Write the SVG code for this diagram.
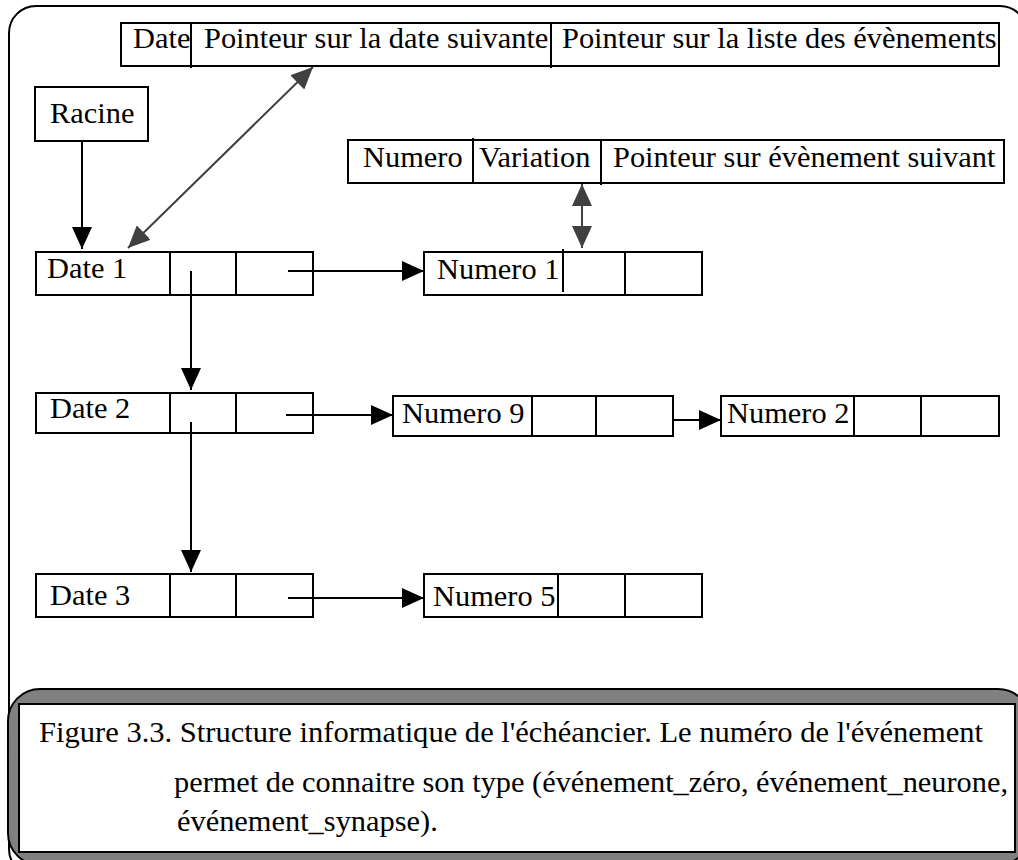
<svg xmlns="http://www.w3.org/2000/svg" width="1018" height="860" viewBox="0 0 1018 860">
<defs>
<style>
.box{fill:#fff;stroke:#000;stroke-width:2}
.div{stroke:#000;stroke-width:2}
.t{font-family:"Liberation Serif","Times New Roman",serif;font-size:30.4px;fill:#000}
.c{stroke:#000;stroke-width:2;fill:none}
.g{stroke:#404040;stroke-width:2;fill:none}
</style>
<marker id="ah" viewBox="0 0 22 20" refX="22" refY="10" markerWidth="22" markerHeight="20" markerUnits="userSpaceOnUse" orient="auto-start-reverse">
<path d="M0,0 L22,10 L0,20 z" fill="#000"/>
</marker>
<marker id="ahg" viewBox="0 0 22 20" refX="22" refY="10" markerWidth="22" markerHeight="20" markerUnits="userSpaceOnUse" orient="auto-start-reverse">
<path d="M0,0 L22,10 L0,20 z" fill="#404040"/>
</marker>
</defs>
<rect x="0" y="0" width="1018" height="860" fill="#fff"/>
<g id="frame">
<rect x="9" y="6" width="1018" height="870" rx="27" ry="27" fill="#fff" stroke="#000" stroke-width="2"/>
</g>
<g id="header-date">
<rect class="box" x="121" y="23" width="878" height="43"/>
<line class="div" x1="191" y1="22" x2="191" y2="68"/>
<line class="div" x1="551" y1="23" x2="551" y2="68"/>
<text class="t" x="133" y="48">Date</text>
<text class="t" x="204" y="48">Pointeur sur la date suivante</text>
<text class="t" x="562" y="48">Pointeur sur la liste des évènements</text>
</g>
<g id="racine">
<rect class="box" x="35" y="87" width="113" height="54"/>
<text class="t" x="50" y="123">Racine</text>
</g>
<g id="header-event">
<rect class="box" x="348" y="140" width="656" height="43"/>
<line class="div" x1="473" y1="138" x2="473" y2="183"/>
<line class="div" x1="601" y1="140" x2="601" y2="185"/>
<text class="t" x="363" y="167">Numero</text>
<text class="t" x="479" y="167">Variation</text>
<text class="t" x="613" y="167">Pointeur sur évènement suivant</text>
</g>
<g id="date1">
<rect class="box" x="36" y="252" width="277" height="43"/>
<line class="div" x1="170" y1="252" x2="170" y2="295"/>
<line class="div" x1="236" y1="252" x2="236" y2="295"/>
<text class="t" x="47" y="278">Date 1</text>
</g>
<g id="numero1">
<rect class="box" x="424" y="252" width="278" height="43"/>
<line class="div" x1="563" y1="249" x2="563" y2="292"/>
<line class="div" x1="625" y1="252" x2="625" y2="295"/>
<text class="t" x="437" y="279">Numero 1</text>
</g>
<g id="date2">
<rect class="box" x="36" y="393" width="277" height="40"/>
<line class="div" x1="170" y1="393" x2="170" y2="433"/>
<line class="div" x1="236" y1="393" x2="236" y2="433"/>
<text class="t" x="50" y="418">Date 2</text>
</g>
<g id="numero9">
<rect class="box" x="393" y="396" width="280" height="40"/>
<line class="div" x1="532" y1="396" x2="532" y2="436"/>
<line class="div" x1="596" y1="396" x2="596" y2="436"/>
<text class="t" x="402" y="423">Numero 9</text>
</g>
<g id="numero2">
<rect class="box" x="721" y="396" width="278" height="40"/>
<line class="div" x1="854" y1="396" x2="854" y2="436"/>
<line class="div" x1="921" y1="396" x2="921" y2="436"/>
<text class="t" x="727" y="423">Numero 2</text>
</g>
<g id="date3">
<rect class="box" x="36" y="574" width="277" height="43"/>
<line class="div" x1="170" y1="574" x2="170" y2="617"/>
<line class="div" x1="236" y1="574" x2="236" y2="617"/>
<text class="t" x="50" y="605">Date 3</text>
</g>
<g id="numero5">
<rect class="box" x="424" y="574" width="278" height="43"/>
<line class="div" x1="558" y1="574" x2="558" y2="617"/>
<line class="div" x1="625" y1="574" x2="625" y2="617"/>
<text class="t" x="433" y="606">Numero 5</text>
</g>
<g id="connectors">
<line class="c" x1="82" y1="141" x2="82" y2="249" marker-end="url(#ah)"/>
<line class="g" x1="128" y1="248" x2="313" y2="67" marker-start="url(#ahg)" marker-end="url(#ahg)"/>
<line class="g" x1="582" y1="184" x2="582" y2="248" marker-start="url(#ahg)" marker-end="url(#ahg)"/>
<line class="c" x1="288" y1="271" x2="424" y2="271" marker-end="url(#ah)"/>
<line class="c" x1="191" y1="271" x2="191" y2="390" marker-end="url(#ah)"/>
<line class="c" x1="286" y1="415" x2="393" y2="415" marker-end="url(#ah)"/>
<line class="c" x1="673" y1="420" x2="721" y2="420" marker-end="url(#ah)"/>
<line class="c" x1="191" y1="422" x2="191" y2="572" marker-end="url(#ah)"/>
<line class="c" x1="288" y1="598" x2="424" y2="598" marker-end="url(#ah)"/>
</g>
<g id="caption">
<rect x="8" y="689" width="1022" height="176" rx="32" ry="32" fill="#808080" stroke="#000" stroke-width="2"/>
<rect x="19" y="704" width="996" height="148" fill="#fff" stroke="#000" stroke-width="2"/>
<text class="t" x="39" y="742" textLength="944" lengthAdjust="spacingAndGlyphs">Figure 3.3. Structure informatique de l'échéancier. Le numéro de l'événement</text>
<text class="t" x="174" y="792" textLength="834" lengthAdjust="spacingAndGlyphs">permet de connaitre son type (événement_zéro, événement_neurone,</text>
<text class="t" x="177" y="831">événement_synapse).</text>
</g>
</svg>
